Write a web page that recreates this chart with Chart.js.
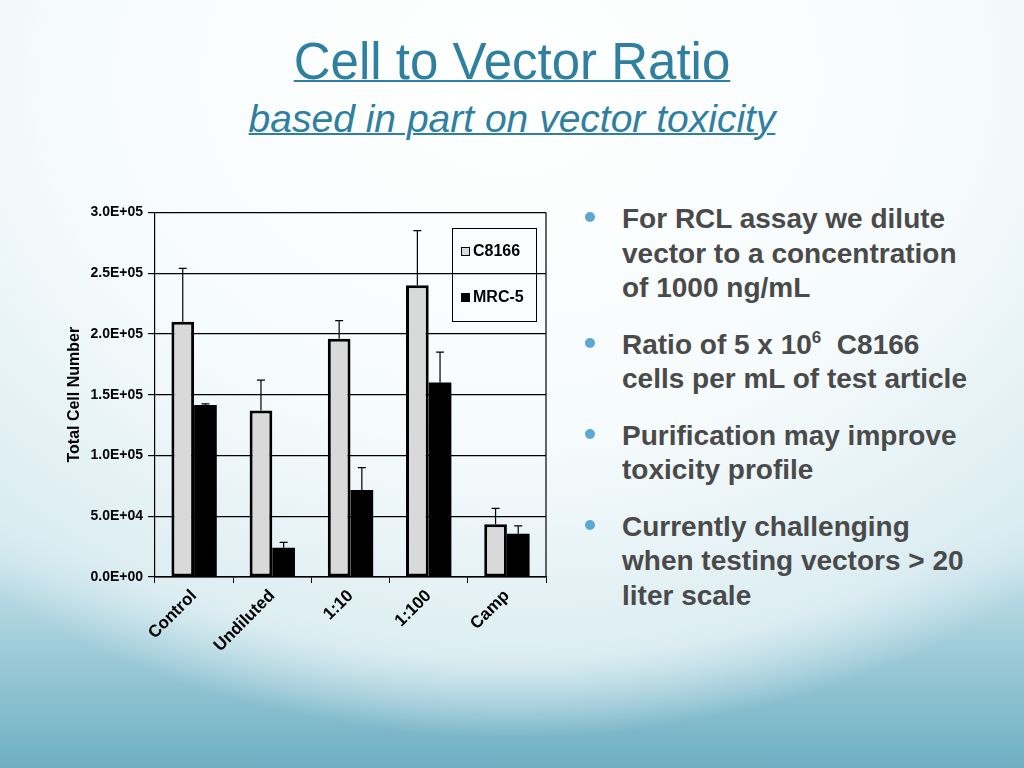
<!DOCTYPE html>
<html>
<head>
<meta charset="utf-8">
<script src="https://cdn.jsdelivr.net/npm/chart.js@4.4.1/dist/chart.umd.min.js"></script>
<style>
  html, body { margin: 0; padding: 0; }
  body {
    width: 1024px; height: 768px; overflow: hidden; position: relative;
    font-family: "Liberation Sans", Arial, sans-serif;
    background:
      radial-gradient(ellipse 82% 86% at 50% 10%, #ffffff 0%, #f6fbfc 55%, #dcedf2 88%, rgba(220,237,242,0) 100%),
      linear-gradient(180deg, #ffffff 0%, #e8f3f6 62%, #a6d0dc 82%, #6eafc3 100%);
  }
  .title {
    position: absolute; left: 0; width: 1024px; text-align: center;
    color: #2f7fa1; text-decoration: underline; text-decoration-thickness: 2px;
  }
  #t1 { top: 32px; font-size: 51px; }
  #t2 { top: 97px; font-size: 39px; font-style: italic; }
  #wrap { position: absolute; left: 40px; top: 199px; width: 520px; height: 460px; }
  #legend {
    position: absolute; left: 452px; top: 228px; width: 83px; height: 92px;
    border: 1px solid #000; font-size: 16px; font-weight: bold; color: #000;
  }
  #legend div { position: absolute; left: 8px; display: flex; align-items: center; }
  #legend span.sw { display: inline-block; width: 7px; height: 7px; border: 1.5px solid #000; margin-right: 3px; }
  #bullets {
    position: absolute; left: 622px; top: 202px; width: 358px; margin: 0; padding: 0;
    list-style: none; color: #4a4a4a; font-weight: bold; font-size: 28px; line-height: 34.5px;
  }
  #bullets li { position: relative; margin-bottom: 22px; }
  #bullets li::before {
    content: ""; position: absolute; left: -37px; top: 10px; width: 10px; height: 10px;
    border-radius: 50%; background: #5ca8d2;
  }
  #bullets sup { font-size: 17px; line-height: 0; vertical-align: 11px; }
</style>
</head>
<body>
<div class="title" id="t1">Cell to Vector Ratio</div>
<div class="title" id="t2">based in part on vector toxicity</div>

<div id="wrap"><canvas id="chart"></canvas></div>
<div id="legend"></div>

<ul id="bullets">
  <li>For RCL assay we dilute vector to a concentration of 1000 ng/mL</li>
  <li>Ratio of 5 x 10<sup>6</sup>&nbsp; C8166 cells per mL of test article</li>
  <li>Purification may improve toxicity profile</li>
  <li>Currently challenging when testing vectors &gt; 20 liter scale</li>
</ul>

<script>
// ---- données ----
const categories = ["Control", "Undiluted", "1:10", "1:100", "Camp"];
const seriesNames = ["C8166", "MRC-5"];
const c8166 = [210000, 137000, 196000, 240000, 43500];
const c8166Err = [44000, 25000, 15000, 45000, 13000];
const mrc5 = [141500, 24000, 71500, 160000, 35500];
const mrc5Err = [1000, 4500, 18500, 25000, 6500];
const yTickLabels = ["0.0E+00", "5.0E+04", "1.0E+05", "1.5E+05", "2.0E+05", "2.5E+05", "3.0E+05"];

const FILLS = ["#d9d9d9", "#000000"];

// barres d'erreur (vers le haut seulement)
const errorBars = {
  id: "errorBars",
  afterDatasetsDraw(chart) {
    const ctx = chart.ctx;
    const y = chart.scales.y;
    chart.data.datasets.forEach((ds, i) => {
      const meta = chart.getDatasetMeta(i);
      meta.data.forEach((bar, j) => {
        const top = y.getPixelForValue(ds.data[j] + ds.errors[j]);
        ctx.save();
        ctx.strokeStyle = "#000";
        ctx.lineWidth = 1.2;
        ctx.beginPath();
        ctx.moveTo(bar.x, bar.y);
        ctx.lineTo(bar.x, top);
        ctx.moveTo(bar.x - 4, top);
        ctx.lineTo(bar.x + 4, top);
        ctx.stroke();
        ctx.restore();
      });
    });
  }
};

// bordure droite de la zone de tracé
const frame = {
  id: "frame",
  afterDraw(chart) {
    const { ctx, chartArea: a } = chart;
    ctx.save();
    ctx.strokeStyle = "#000";
    ctx.lineWidth = 1.2;
    ctx.beginPath();
    ctx.moveTo(a.right, a.top);
    ctx.lineTo(a.right, a.bottom);
    ctx.stroke();
    ctx.restore();
  }
};

Chart.defaults.font.family = '"Liberation Sans", Arial, sans-serif';
Chart.defaults.color = "#000";

new Chart(document.getElementById("chart").getContext("2d"), {
  type: "bar",
  data: {
    labels: categories,
    datasets: [
      { label: seriesNames[0], data: c8166, errors: c8166Err, backgroundColor: FILLS[0],
        borderColor: "#000", borderWidth: 3, borderSkipped: false },
      { label: seriesNames[1], data: mrc5, errors: mrc5Err, backgroundColor: FILLS[1],
        borderColor: "#000", borderWidth: 0 },
    ],
  },
  options: {
    responsive: true,
    maintainAspectRatio: false,
    animation: false,
    layout: { padding: { top: 12, right: 14, left: 0, bottom: 0 } },
    datasets: { bar: { barPercentage: 1.0, categoryPercentage: 0.58 } },
    plugins: { legend: { display: false }, tooltip: { enabled: false } },
    scales: {
      x: {
        grid: { drawOnChartArea: false, color: "#000", tickLength: 6, offset: true },
        border: { color: "#000", width: 1.5 },
        ticks: { autoSkip: false, minRotation: 45, maxRotation: 45, padding: 3,
                 font: { size: 17, weight: "bold" } },
        afterFit: (s) => { s.height = 82; },
      },
      y: {
        min: 0, max: 300000,
        ticks: { stepSize: 50000, padding: 5, font: { size: 14, weight: "bold" },
                 callback: (v, i) => yTickLabels[i] },
        grid: { color: "#000", lineWidth: 1.2, tickLength: 7 },
        border: { color: "#000", width: 1.2 },
        title: { display: true, text: "Total Cell Number", padding: { top: 25, bottom: 0 },
                 font: { size: 16, weight: "bold" } },
        afterFit: (s) => { s.width = 115; },
      },
    },
  },
  plugins: [errorBars, frame],
});

// légende dans la zone de tracé
const legend = document.getElementById("legend");
seriesNames.forEach((name, i) => {
  const row = document.createElement("div");
  row.style.top = (i === 0 ? 13 : 59) + "px";
  row.innerHTML = '<span class="sw" style="background:' + FILLS[i] + '"></span>' + name;
  legend.appendChild(row);
});
</script>
</body>
</html>
